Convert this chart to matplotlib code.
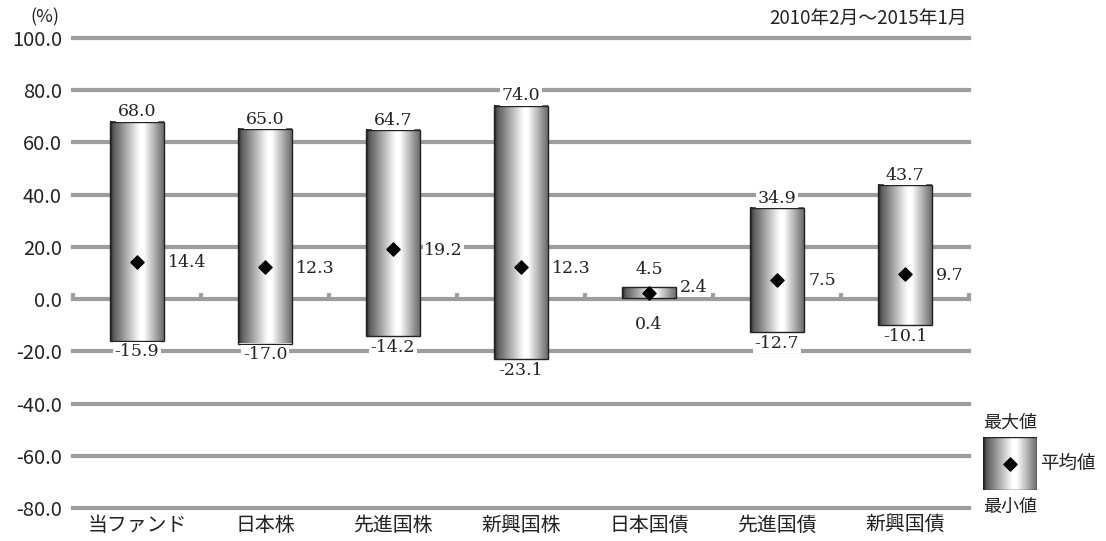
import numpy as np
import matplotlib
matplotlib.use('Agg')
import matplotlib.pyplot as plt

plt.rcParams['font.family'] = ['Noto Sans CJK JP', 'DejaVu Sans']

categories = ['当ファンド', '日本株', '先進国株', '新興国株', '日本国債', '先進国債', '新興国債']
max_vals = [68.0, 65.0, 64.7, 74.0, 4.5, 34.9, 43.7]
min_vals = [-15.9, -17.0, -14.2, -23.1, 0.4, -12.7, -10.1]
mean_vals = [14.4, 12.3, 19.2, 12.3, 2.4, 7.5, 9.7]
yticks = [-80, -60, -40, -20, 0, 20, 40, 60, 80, 100]

W, H = 1106, 541
grid_color = '#9d9d9d'
text_color = '#222222'
serif = 'DejaVu Serif'
bar_w = 0.42

# horizontal shading used inside each bar
shade = np.interp(np.linspace(0, 1, 200),
                  [0, 0.06, 0.55, 0.63, 1.0],
                  [0.08, 0.35, 1.0, 1.0, 0.42]).reshape(1, -1)


def draw_bar(ax, x0, x1, y0, y1):
    ax.imshow(shade, cmap='gray', vmin=0, vmax=1, aspect='auto',
              extent=[x0, x1, y0, y1], zorder=2, interpolation='bilinear')
    ax.add_patch(plt.Rectangle((x0, y0), x1 - x0, y1 - y0, fill=False,
                               edgecolor=text_color, lw=1.0, zorder=3))


fig = plt.figure(figsize=(W / 100, H / 100), dpi=100)
ax = fig.add_axes([73 / W, 33 / H, 896 / W, 470 / H])

x = np.arange(len(categories))

for v in yticks:
    ax.axhline(v, color=grid_color, lw=3, zorder=0, clip_on=False)
# small nubs on the zero line between categories
bounds = np.arange(len(categories) + 1) - 0.5
ax.vlines(bounds, 0, 2.4, color=grid_color, lw=3, zorder=0, clip_on=False)

for i in range(len(categories)):
    draw_bar(ax, x[i] - bar_w / 2, x[i] + bar_w / 2, min_vals[i], max_vals[i])

ax.scatter(x, mean_vals, marker='D', s=45, color='black', zorder=4)

box = dict(facecolor='white', edgecolor='none', pad=1)
for i in range(len(categories)):
    # short bars get their labels pushed further out so they stay readable
    extra = 6 if max_vals[i] - min_vals[i] < 10 else 0
    ax.annotate(f'{max_vals[i]:.1f}', (x[i], max_vals[i]), xytext=(0, 1 + extra),
                textcoords='offset points', ha='center', va='bottom',
                family=serif, fontsize=12.5, color=text_color, bbox=box, zorder=5)
    ax.annotate(f'{min_vals[i]:.1f}', (x[i], min_vals[i]), xytext=(0, -2 - extra * 1.8),
                textcoords='offset points', ha='center', va='top',
                family=serif, fontsize=12.5, color=text_color, bbox=box, zorder=5)
    ax.annotate(f'{mean_vals[i]:.1f}', (x[i] + bar_w / 2, mean_vals[i]),
                xytext=(3, -1 + extra * 0.8), textcoords='offset points', ha='left',
                va='center', family=serif, fontsize=12.5, color=text_color,
                bbox=box, zorder=5)

ax.set_xlim(-0.5, len(categories) - 0.5)
ax.set_ylim(-80, 100)
ax.set_yticks(yticks)
ax.set_yticklabels([f'{v:.1f}' for v in yticks], fontsize=14.5, color=text_color)
ax.set_xticks(x)
ax.set_xticklabels(categories, fontsize=14.3, color=text_color)
ax.tick_params(length=0)
ax.tick_params(axis='y', pad=8)
ax.tick_params(axis='x', pad=5)
for s in ax.spines.values():
    s.set_visible(False)

fig.text(45 / W, 1 - 17 / H, '(%)', ha='center', va='center', fontsize=13,
         color=text_color)
fig.text(967 / W, 1 - 18 / H, '2010年2月～2015年1月', ha='right', va='center',
         fontsize=13.5, color=text_color)

# legend drawn as a small separate box
lax = fig.add_axes([983 / W, 1 - 490 / H, 54 / W, 53 / H])
lax.set_xlim(0, 1)
lax.set_ylim(0, 1)
draw_bar(lax, 0, 1, 0, 1)
lax.scatter([0.5], [0.5], marker='D', s=45, color='black', zorder=4)
lax.set_axis_off()
fig.text(1010 / W, 1 - 423 / H, '最大値', ha='center', va='center', fontsize=13,
         color=text_color)
fig.text(1010 / W, 1 - 507 / H, '最小値', ha='center', va='center', fontsize=13,
         color=text_color)
fig.text(1040 / W, 1 - 464 / H, '平均値', ha='left', va='center', fontsize=13.3,
         color=text_color)

fig.savefig('out.png', dpi=100)
